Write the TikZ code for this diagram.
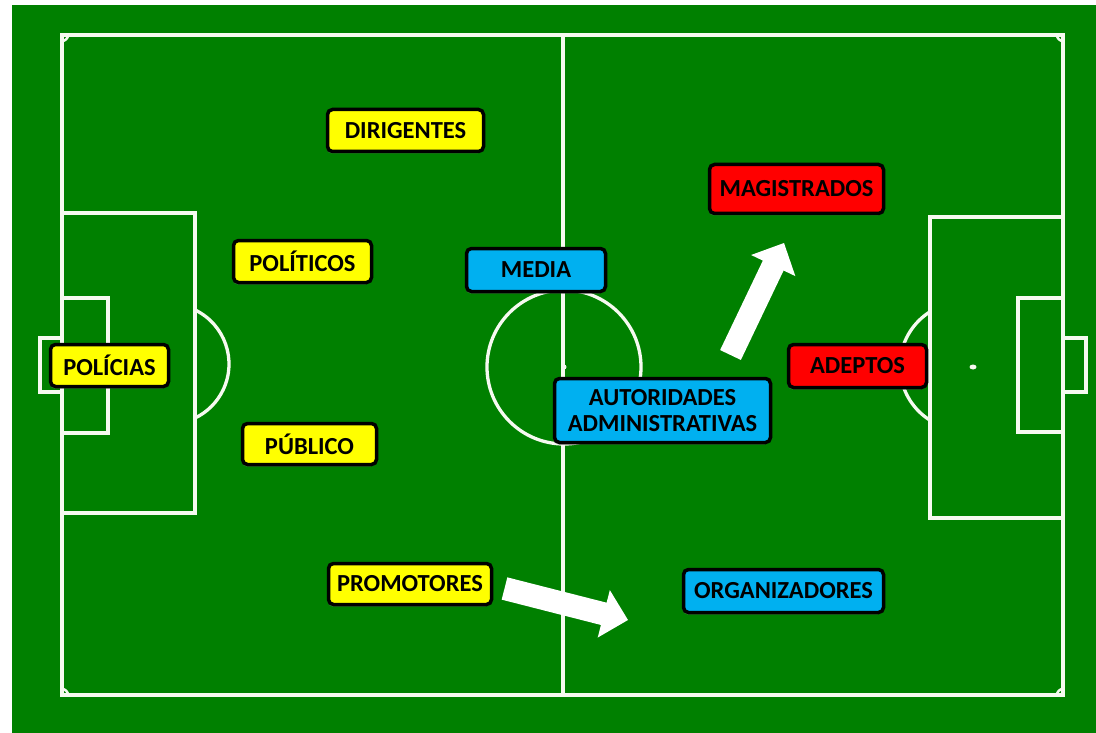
\documentclass[tikz,border=0pt]{standalone}
\usepackage{fontspec}
\setmainfont{Carlito}
\usetikzlibrary{calc,shadows}
\definecolor{pitch}{RGB}{0,128,0}
\definecolor{lbl}{RGB}{246,250,240}
\definecolor{tyellow}{RGB}{255,255,0}
\definecolor{tblue}{RGB}{0,176,240}
\definecolor{tred}{RGB}{255,0,0}
\newcommand\blockarr[2]{%
  \coordinate (nk) at ($(#2)!25pt!(#1)$);
  \fill[white] ($(#1)!11.5pt!90:(#2)$) -- ($(nk)!11.5pt!90:(#2)$) -- ($(nk)!24.5pt!90:(#2)$) -- (#2)
    -- ($(nk)!24.5pt!-90:(#2)$) -- ($(nk)!11.5pt!-90:(#2)$) -- ($(#1)!11.5pt!-90:(#2)$) -- cycle;}
\begin{document}
\begin{tikzpicture}[x=1pt,y=-1pt,
  fieldline/.style={draw=lbl,line width=3.3pt},
  tag/.style={draw=black,line width=3.5pt,rounded corners=5pt,inner sep=0pt,align=center,
    font=\fontsize{24.5}{26}\selectfont\bfseries,text=black,
    drop shadow={shadow xshift=-1pt,shadow yshift=-2pt,opacity=0.45}},
  ytag/.style={tag,fill=tyellow},
  btag/.style={tag,fill=tblue},
  rtag/.style={tag,fill=tred}]
\useasboundingbox (0,0) rectangle (1096,733);
\fill[white] (0,0) rectangle (1096,733);
\fill[pitch] (12,5) rectangle (1096,733);
% field lines
\draw[fieldline] (62,35) rectangle (1063,695);
\draw[fieldline] (563,35) -- (563,695);
\draw[fieldline] (564,367) circle[radius=77];
\fill[lbl] (564,367) circle[radius=2.5];
% left side
\draw[fieldline] (62,213) rectangle (195,513);
\draw[fieldline] (62,298) rectangle (108,433);
\draw[fieldline] (62,338) -- (40,338) -- (40,392) -- (62,392);
\draw[fieldline] (169,364) ++(-64.3:60) arc[start angle=-64.3,end angle=64.3,radius=60];
% right side
\draw[fieldline] (930,217) rectangle (1063,518);
\draw[fieldline] (1018,298) rectangle (1063,432);
\draw[fieldline] (1063,338) -- (1086,338) -- (1086,392) -- (1063,392);
\draw[fieldline] (964,366) ++(122.1:64) arc[start angle=122.1,end angle=237.9,radius=64];
\fill[lbl] (973,367) ellipse[x radius=3.5,y radius=2.5];
% corners
\draw[fieldline,line width=2.5pt] (68,35) arc[start angle=0,end angle=90,radius=6];
\draw[fieldline,line width=2.5pt] (1057,35) arc[start angle=180,end angle=90,radius=6];
\draw[fieldline,line width=2.5pt] (62,689) arc[start angle=270,end angle=360,radius=6];
\draw[fieldline,line width=2.5pt] (1063,689) arc[start angle=270,end angle=180,radius=6];
% arrows
\coordinate (a1s) at (504.5,588.5);
\coordinate (a1e) at (628,620);
\coordinate (a2s) at (730.5,355);
\coordinate (a2e) at (784,243);
\blockarr{a1s}{a1e}
\blockarr{a2s}{a2e}
% tags
\node[ytag,minimum width=156pt,minimum height=42pt] (dirigentes) at (405.5,130.5) {DIRIGENTES};
\node[ytag,minimum width=138pt,minimum height=42pt] (politicos) at (302.5,261.5) {POLÍTICOS};
\node[ytag,minimum width=118pt,minimum height=42pt] (policias) at (109.5,365.5) {POLÍCIAS};
\node[ytag,minimum width=134pt,minimum height=41pt] (publico) at (309.5,444) {PÚBLICO};
\node[ytag,minimum width=163pt,minimum height=41pt] (promotores) at (410,584) {PROMOTORES};
\node[btag,minimum width=139pt,minimum height=43pt] (media) at (536,270) {MEDIA};
\node[btag,minimum width=216pt,minimum height=64pt] (autoridades) at (662.5,410.5) {AUTORIDADES\\ADMINISTRATIVAS};
\node[btag,minimum width=200pt,minimum height=43pt] (organizadores) at (783.5,591) {ORGANIZADORES};
\node[rtag,minimum width=174pt,minimum height=49pt] (magistrados) at (796.5,189) {MAGISTRADOS};
\node[rtag,minimum width=138pt,minimum height=43pt] (adeptos) at (857.5,366) {ADEPTOS};
\end{tikzpicture}
\end{document}
